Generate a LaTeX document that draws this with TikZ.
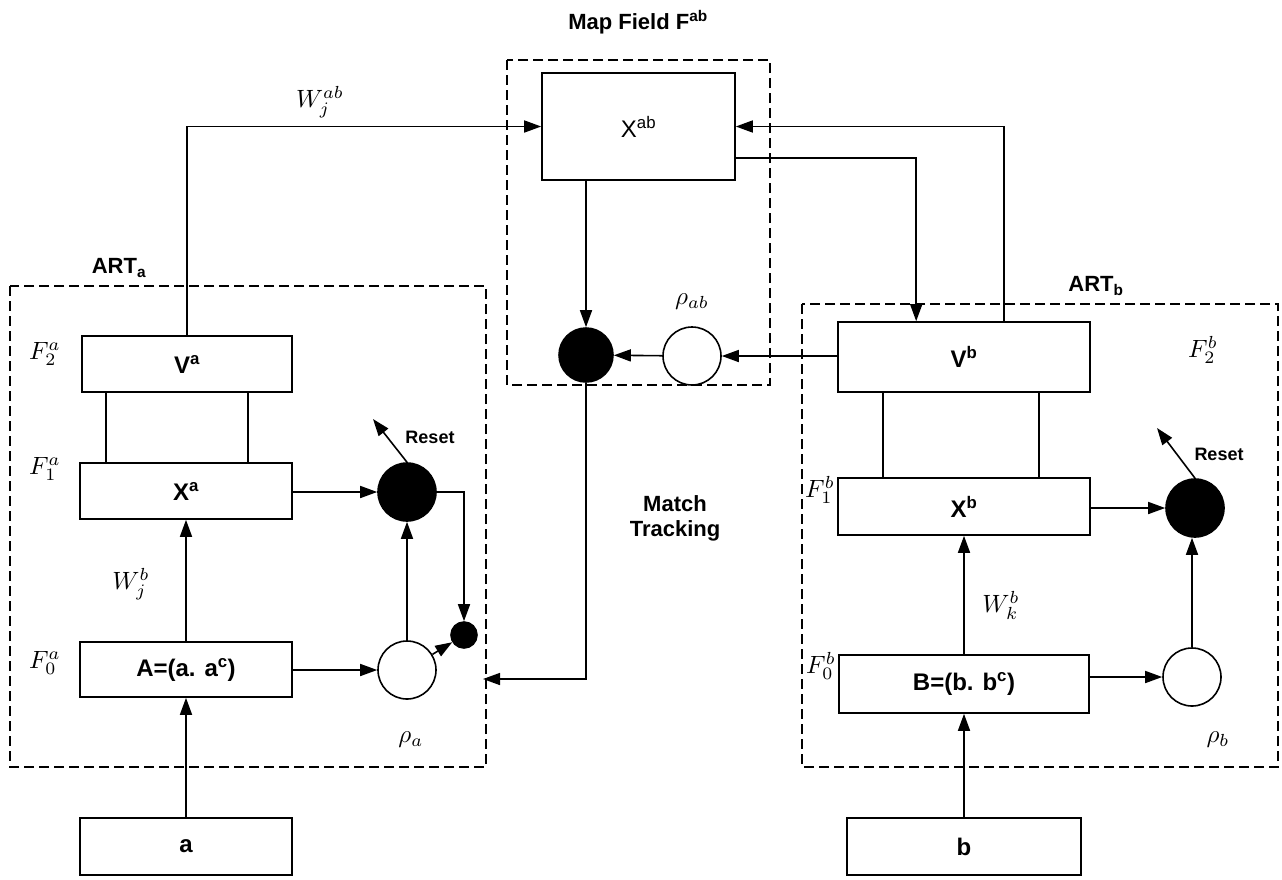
\documentclass[tikz,border=0pt]{standalone}
\usepackage{fontspec}
\setmainfont{Liberation Sans}
\usetikzlibrary{arrows.meta,calc}
\newcommand{\mylab}[1]{\scalebox{2.5}{$#1$}}
\begin{document}
\begin{tikzpicture}[x=1pt,y=-1pt,
  line width=1.6pt,
  arr/.style={-{Triangle[length=17pt,width=12pt]}},
  blk/.style={draw, inner sep=0pt, anchor=center, font=\fontsize{24}{26}\selectfont\bfseries},
  dbox/.style={draw, dash pattern=on 10pt off 5pt, line width=1.4pt},
  fcirc/.style={circle, draw, fill=black, inner sep=0pt, minimum size=#1},
  wcirc/.style={circle, draw, fill=white, inner sep=0pt, minimum size=#1},
  flab/.style={inner sep=0pt},
  ttl/.style={font=\fontsize{22}{25}\selectfont\bfseries},
  rst/.style={font=\fontsize{18}{20}\selectfont\bfseries}
]
\path[use as bounding box] (0,0) rectangle (1282,879);

% dashed boxes
\draw[dbox] (10,286) rectangle (486,767);
\draw[dbox] (507,60) rectangle (770,385);
\draw[dbox] (802,304) rectangle (1278,767);

% titles
\node[ttl] (tmap) at (638,22) {Map Field F\textsuperscript{ab}};
\node[ttl] (tarta) at (119,268) {ART\textsubscript{a}};
\node[ttl] (tartb) at (1096,286) {ART\textsubscript{b}};
\node[ttl, align=center] (tmt) at (675,518) {Match\\Tracking};

% map field
\node[blk, font=\fontsize{24}{26}\selectfont, minimum width=193pt, minimum height=107pt] (Xab) at (638.5,126.5) {X\textsuperscript{ab}};
\node[fcirc=54pt] (fAB) at (586,355) {};
\node[wcirc=58pt] (wAB) at (692,356) {};
\node[flab] (lrab) at (692,302) {\mylab{\rho_{ab}}};
\node[flab] (lwab) at (320,102) {\mylab{W_j^{ab}}};

% ART a
\node[blk, minimum width=210pt, minimum height=56pt] (Va) at (187,364) {V\textsuperscript{a}};
\node[blk, minimum width=212pt, minimum height=56pt] (Xa) at (186,491) {X\textsuperscript{a}};
\node[blk, minimum width=212pt, minimum height=55pt] (A) at (186,669.5) {A=(a. a\textsuperscript{c})};
\node[blk, minimum width=212pt, minimum height=57pt] (a) at (186,846.5) {a};
\node[fcirc=58pt] (fA) at (407,492) {};
\node[wcirc=58pt] (wA) at (407,670) {};
\node[fcirc=26pt] (sA) at (464,635) {};
\node[flab] (lF2a) at (45,354) {\mylab{F_2^a}};
\node[flab] (lF1a) at (45,469) {\mylab{F_1^a}};
\node[flab] (lF0a) at (45,663) {\mylab{F_0^a}};
\node[flab] (lWa) at (131,584) {\mylab{W_j^b}};
\node[flab] (lra) at (411,740) {\mylab{\rho_a}};
\node[rst] (lresa) at (430,437) {Reset};
\coordinate (rA) at (373,419);
\coordinate (mt) at (483,679);

% ART b
\node[blk, minimum width=252pt, minimum height=70pt] (Vb) at (964,357) {V\textsuperscript{b}};
\node[blk, minimum width=252pt, minimum height=57pt] (Xb) at (964,506.5) {X\textsuperscript{b}};
\node[blk, minimum width=250pt, minimum height=58pt] (B) at (964,684) {B=(b. b\textsuperscript{c})};
\node[blk, minimum width=234pt, minimum height=57pt] (b) at (964,846.5) {b};
\node[fcirc=58pt] (fB) at (1195,508) {};
\node[wcirc=58pt] (wB) at (1192,677) {};
\node[flab] (lF2b) at (1203,350) {\mylab{F_2^b}};
\node[flab] (lF1b) at (820,490) {\mylab{F_1^b}};
\node[flab] (lF0b) at (821,666) {\mylab{F_0^b}};
\node[flab] (lWb) at (1001,605) {\mylab{W_k^b}};
\node[flab] (lrb) at (1218,740) {\mylab{\rho_b}};
\node[rst] (lresb) at (1219,454) {Reset};
\coordinate (rB) at (1157,428);

% connectors map field
\draw[arr] (Va.north) |- (Xab.west);
\draw[arr] ([xshift=167pt]Vb.north west) |- (Xab.east);
\draw[arr] ([yshift=-31.5pt]Xab.east) -| ([xshift=79pt]Vb.north west);
\draw[arr] (fAB |- Xab.south) -- (fAB.north);
\draw[arr] (Vb.west |- wAB) -- (wAB);
\draw[arr] (wAB) -- (fAB);
\draw[arr] (fAB.south) |- (mt);

% connectors ART a
\draw ($(Xa.north west)+(27,0)$) coordinate (ta1) -- (ta1 |- Va.south);
\draw ($(Xa.north west)+(169,0)$) coordinate (ta2) -- (ta2 |- Va.south);
\draw[arr] (a.north) -- (A.south);
\draw[arr] (A.north) -- (Xa.south);
\draw[arr] (Xa.east |- fA) -- (fA);
\draw[arr] (fA.north) -- (rA);
\draw[arr] (fA.east) -| (sA.north);
\draw[arr] (A.east |- wA) -- (wA);
\draw[arr] (wA.north) -- (fA.south);
\draw[arr] (wA) -- (sA);

% connectors ART b
\draw ($(Xb.north west)+(46,0)$) coordinate (tb1) -- (tb1 |- Vb.south);
\draw ($(Xb.north west)+(202,0)$) coordinate (tb2) -- (tb2 |- Vb.south);
\draw[arr] (b.north) -- (B.south);
\draw[arr] (B.north) -- (Xb.south);
\draw[arr] (Xb.east |- fB) -- (fB);
\draw[arr] (fB.north) -- (rB);
\draw[arr] (B.east |- wB) -- (wB);
\draw[arr] (wB.north) -- (wB.north |- fB.south);
\end{tikzpicture}
\end{document}
